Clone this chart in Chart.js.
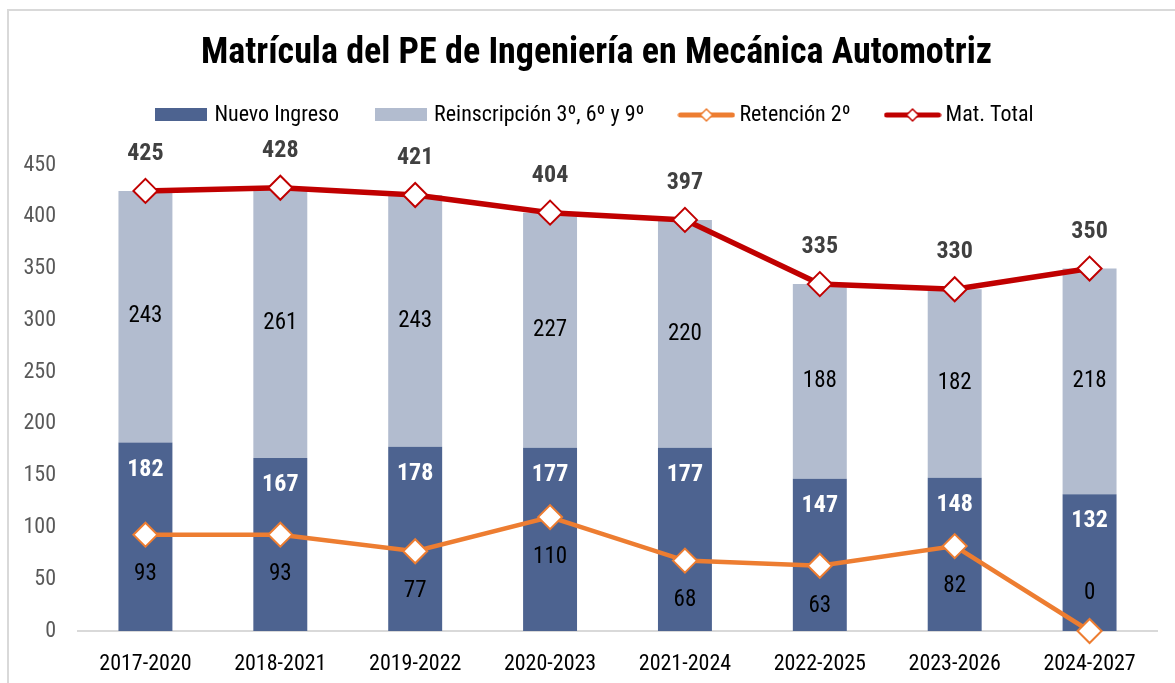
<!DOCTYPE html>
<html>
<head>
<meta charset="utf-8">
<script src="https://cdn.jsdelivr.net/npm/chart.js@4/dist/chart.umd.min.js"></script>
<style>
    html, body { margin: 0; padding: 0; background: #fff; }
    #wrap { position: relative; width: 1175px; height: 683px; }
</style>
</head>
<body>
<div id="wrap"><canvas id="chart" width="1175" height="683"></canvas></div>
<script>
// --- Data ----------------------------------------------------------------

const periodos = ['2017-2020', '2018-2021', '2019-2022', '2020-2023', '2021-2024', '2022-2025', '2023-2026', '2024-2027'];
const nuevoIngreso = [182, 167, 178, 177, 177, 147, 148, 132];
const reinscripcion = [243, 261, 243, 227, 220, 188, 182, 218];
const retencion = [93, 93, 77, 110, 68, 63, 82, 0];
const matTotal = [425, 428, 421, 404, 397, 335, 330, 350];
const yMin = 0, yMax = 450, yStep = 50;

// --- Style ---------------------------------------------------------------

const FONT = "'Roboto Condensed', 'Liberation Sans Narrow', 'Liberation Sans', sans-serif";
const COLORS = {
    nuevo: '#4d6390',
    reins: '#b2bccf',
    reten: '#ed7d31',
    total: '#c00000',
};

Chart.defaults.font.family = FONT;

// legend icons drawn onto small canvases (bar box / line + diamond)
function boxIcon(color) {
    const c = document.createElement('canvas');
    c.width = 52; c.height = 14;
    const g = c.getContext('2d');
    g.fillStyle = color;
    g.fillRect(0, 0, 52, 13);
    return c;
}

function lineIcon(color, lw) {
    const c = document.createElement('canvas');
    c.width = 58; c.height = 16;
    const g = c.getContext('2d');
    g.strokeStyle = color;
    g.lineWidth = lw;
    g.lineCap = 'round';
    g.beginPath();
    g.moveTo(3, 8); g.lineTo(55, 8);
    g.stroke();
    g.beginPath();
    g.moveTo(23, 8); g.lineTo(29, 2); g.lineTo(35, 8); g.lineTo(29, 14); g.closePath();
    g.fillStyle = '#fff';
    g.fill();
    g.lineWidth = 1.5;
    g.stroke();
    return c;
}

const legendIcons = [
    boxIcon(COLORS.nuevo),
    boxIcon(COLORS.reins),
    lineIcon(COLORS.reten, 5),
    lineIcon(COLORS.total, 5),
];

// --- Plugins -------------------------------------------------------------

const framePlugin = {
    id: 'frame',
    beforeDraw(chart) {
        const ctx = chart.ctx;
        ctx.save();
        ctx.fillStyle = '#fff';
        ctx.fillRect(0, 0, chart.width, chart.height);
        ctx.strokeStyle = '#d9d9d9';
        ctx.lineWidth = 2;
        ctx.strokeRect(8, 10, chart.width + 20, chart.height + 20);
        ctx.restore();
    },
};

const valueLabels = {
    id: 'valueLabels',
    afterDatasetsDraw(chart) {
        const ctx = chart.ctx;
        ctx.save();
        ctx.textAlign = 'center';
        ctx.textBaseline = 'middle';

        const draw = (dsIndex, font, color, posFn) => {
            const meta = chart.getDatasetMeta(dsIndex);
            const values = chart.data.datasets[dsIndex].data;
            ctx.font = font;
            ctx.fillStyle = color;
            meta.data.forEach((el, i) => {
                ctx.fillText(String(values[i]), el.x, posFn(el, values[i]));
            });
        };

        draw(0, `bold 24px ${FONT}`, '#ffffff', (el) => el.y + 27);
        draw(1, `23px ${FONT}`, '#000000', (el) => (el.y + el.base) / 2);
        // a zero value would sit under the axis, so Excel puts it above the point
        draw(2, `23px ${FONT}`, '#000000', (el, v) => (v === 0 ? el.y - 38 : el.y + 40));
        draw(3, `bold 24px ${FONT}`, '#404040', (el) => el.y - 37);
        ctx.restore();
    },
};

// --- Chart ---------------------------------------------------------------

new Chart(document.getElementById('chart'), {
    type: 'bar',
    data: {
        labels: periodos,
        datasets: [
            {
                label: 'Nuevo Ingreso',
                data: nuevoIngreso,
                backgroundColor: COLORS.nuevo,
                stack: 'mat',
                order: 1,
                barPercentage: 0.4,
                categoryPercentage: 1,
            },
            {
                label: 'Reinscripción 3º, 6º y 9º',
                data: reinscripcion,
                backgroundColor: COLORS.reins,
                stack: 'mat',
                order: 1,
                barPercentage: 0.4,
                categoryPercentage: 1,
            },
            {
                type: 'line',
                label: 'Retención 2º',
                data: retencion,
                stack: 'ret',
                order: 0,
                borderColor: COLORS.reten,
                borderWidth: 4.5,
                pointStyle: 'rectRot',
                pointRadius: 12,
                pointBackgroundColor: '#fff',
                pointBorderColor: COLORS.reten,
                pointBorderWidth: 2,
                tension: 0,
                clip: false,
            },
            {
                type: 'line',
                label: 'Mat. Total',
                data: matTotal,
                stack: 'tot',
                order: 0,
                borderColor: COLORS.total,
                borderWidth: 5.5,
                pointStyle: 'rectRot',
                pointRadius: 12,
                pointBackgroundColor: '#fff',
                pointBorderColor: COLORS.total,
                pointBorderWidth: 2,
                tension: 0,
                clip: false,
            },
        ],
    },
    options: {
        responsive: false,
        animation: false,
        layout: { padding: { left: 18, right: 0, top: 10, bottom: 0 } },
        plugins: {
            title: {
                display: true,
                text: 'Matrícula del PE de Ingeniería en Mecánica Automotriz',
                color: '#000',
                font: { size: 36, weight: 'bold', lineHeight: 1 },
                padding: { top: 26, bottom: -8 },
            },
            legend: {
                display: true,
                labels: {
                    usePointStyle: true,
                    pointStyleWidth: 44,
                    padding: 40,
                    color: '#000',
                    font: { size: 22 },
                    generateLabels: (chart) => chart.data.datasets.map((ds, i) => ({
                        text: ds.label,
                        pointStyle: legendIcons[i],
                        datasetIndex: i,
                        hidden: false,
                        lineWidth: 0,
                        fontColor: '#000',
                    })),
                },
                onClick: null,
            },
            tooltip: { enabled: false },
        },
        scales: {
            x: {
                stacked: true,
                grid: { display: false, drawTicks: false },
                border: { display: true, color: '#d9d9d9', width: 2 },
                ticks: { color: '#000', font: { size: 22 }, padding: 20 },
                afterFit: (s) => { s.height = 52; },
            },
            xTop: {
                type: 'linear',
                axis: 'x',
                position: 'top',
                display: true,
                grid: { display: false, drawTicks: false },
                border: { display: false },
                ticks: { display: false },
                afterFit: (s) => { s.height = 29; },
            },
            y: {
                stacked: true,
                min: yMin,
                max: yMax,
                grid: { display: false, drawTicks: false },
                border: { display: false },
                ticks: { stepSize: yStep, color: '#595959', font: { size: 22 }, padding: 22 },
                afterFit: (s) => { s.width = 60; },
            },
            yRight: {
                type: 'linear',
                position: 'right',
                display: true,
                grid: { display: false, drawTicks: false },
                border: { display: false },
                ticks: { display: false },
                afterFit: (s) => { s.width = 18; },
            },
        },
    },
    plugins: [framePlugin, valueLabels],
});
</script>
</body>
</html>
